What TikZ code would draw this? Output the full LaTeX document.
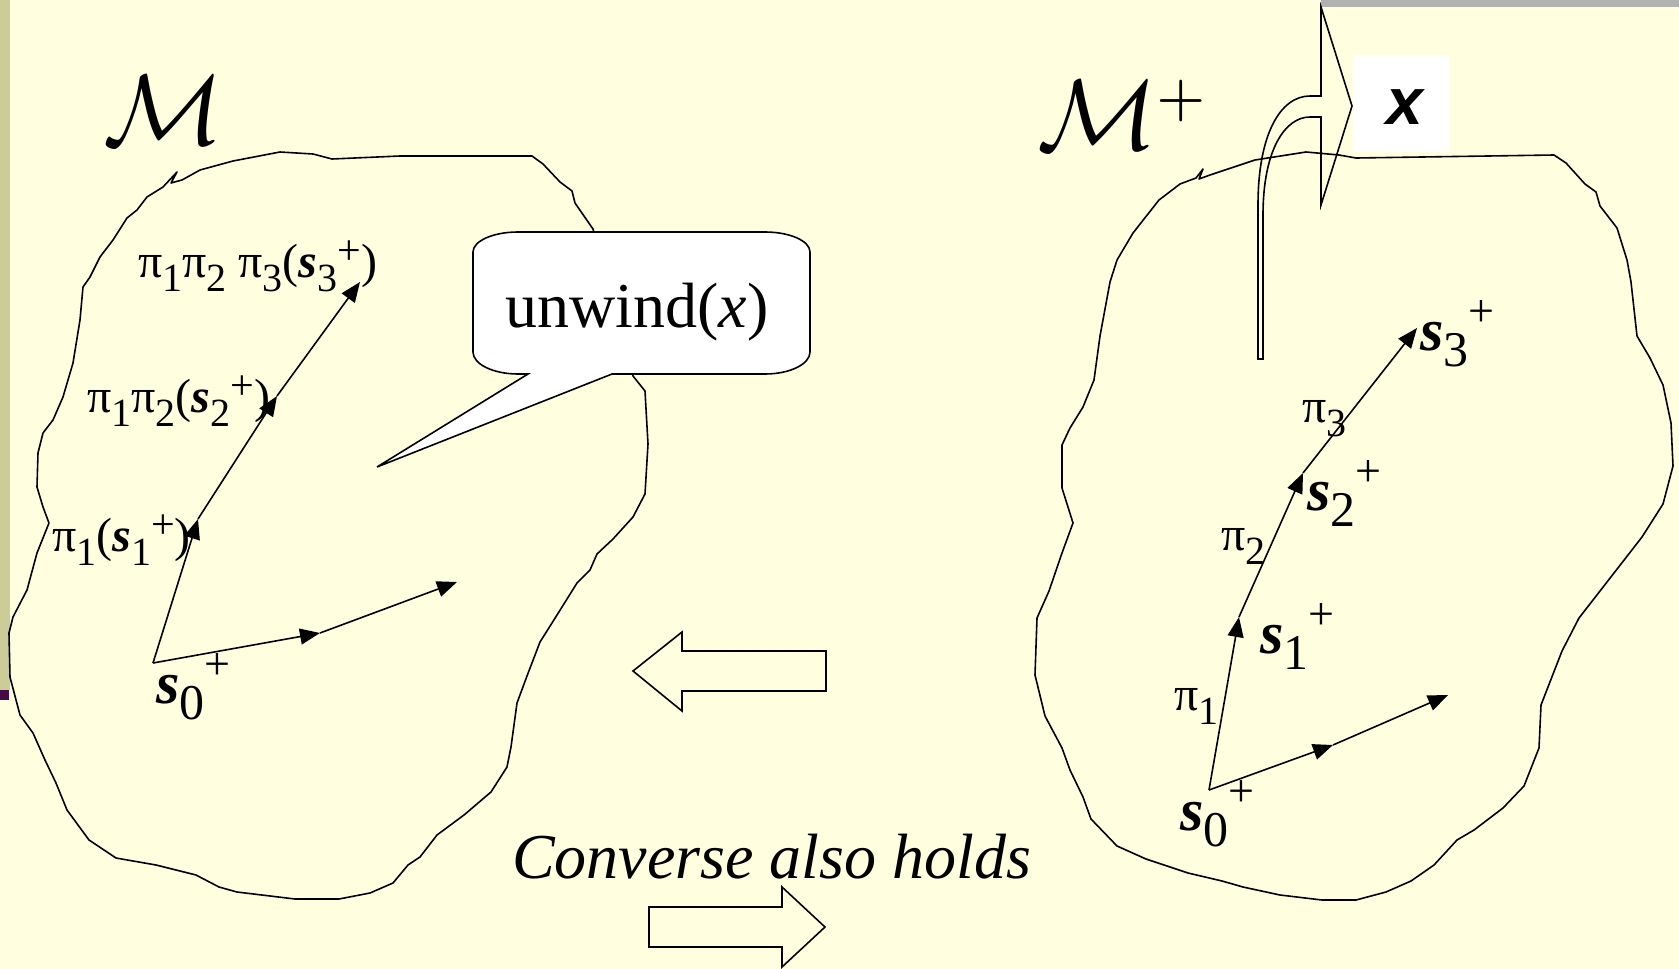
\documentclass[tikz,border=0pt]{standalone}
\usepackage{fontspec}
\setmainfont{Liberation Serif}
\newfontfamily\xsans{Liberation Sans}
\usepackage{graphicx}
\usetikzlibrary{arrows.meta}
\definecolor{bgy}{RGB}{255,255,224}
\definecolor{stripc}{RGB}{204,204,153}
\definecolor{purp}{RGB}{70,10,70}
\definecolor{barg}{RGB}{178,178,178}
\newcommand{\lsub}[1]{\raisebox{-14pt}{\fontsize{40}{40}\selectfont #1}}
\newcommand{\lsup}[1]{\raisebox{13pt}{\fontsize{42}{42}\selectfont #1}}
\newcommand{\ssub}[1]{\raisebox{-16pt}{\fontsize{50}{50}\selectfont #1}}
\newcommand{\hsup}[1]{\raisebox{24pt}{\fontsize{46}{46}\selectfont #1}}
\newcommand{\bs}{\textbf{\textit{s}}}
\tikzset{
  blob/.style={draw=black, line width=1.6pt, line join=round},
  conn/.style={draw=black, line width=1.6pt, -{Triangle[length=20pt,width=16pt]}},
  lab/.style={inner sep=0pt, font=\fontsize{48}{50}\selectfont},
  slab/.style={inner sep=0pt, font=\fontsize{60}{62}\selectfont},
  blockarrow/.style={draw=black, line width=1.6pt, line join=miter},
}
\begin{document}
\begin{tikzpicture}[x=1pt,y=-1pt]
\useasboundingbox (0,0) rectangle (1679,969);
\fill[bgy] (0,0) rectangle (1679,969);
\fill[stripc] (0,0) rectangle (10,690);
\fill[purp] (0,690) rectangle (9,700);
\fill[barg] (1321,0) rectangle (1679,7);

% left blob
\draw[blob] (163,187) -- (177,172) -- (171,183) -- (182,180) -- (200,170) -- (233,161) -- (280,152) -- (313,154) -- (332,159) -- (400,156) -- (532,156) -- (543,164) -- (560,182) -- (572,191) -- (575,203) -- (593,229) -- (615,300) -- (633,376) -- (645,391) -- (648,444) -- (645,494) -- (633,517) -- (613,539) -- (597,554) -- (590,570) -- (577,583) -- (557,615) -- (540,642) -- (527,676) -- (517,703) -- (511,747) -- (507,767) -- (491,792) -- (464,815) -- (437,835) -- (420,857) -- (408,865) -- (393,883) -- (370,893) -- (339,899) -- (295,899) -- (237,892) -- (219,887) -- (196,875) -- (156,865) -- (116,858) -- (89,840) -- (67,810) -- (56,783) -- (45,760) -- (33,733) -- (20,715) -- (10,677) -- (9,633) -- (13,617) -- (27,590) -- (37,553) -- (49,523) -- (43,507) -- (37,487) -- (38,453) -- (43,433) -- (53,420) -- (63,397) -- (73,363) -- (80,320) -- (83,287) -- (90,277) -- (100,257) -- (113,240) -- (127,218) -- (137,210) -- (147,197) -- cycle;

% right blob
\draw[blob] (1180,184) -- (1196,178) -- (1203,169) -- (1199,179) -- (1210,175) -- (1255,160) -- (1306,152) -- (1339,155) -- (1356,158) -- (1554,155) -- (1566,163) -- (1585,184) -- (1596,192) -- (1600,206) -- (1617,228) -- (1627,260) -- (1631,282) -- (1637,336) -- (1650,358) -- (1663,385) -- (1671,423) -- (1673,466) -- (1663,504) -- (1642,537) -- (1621,564) -- (1600,591) -- (1579,618) -- (1562,651) -- (1541,705) -- (1539,748) -- (1524,786) -- (1503,808) -- (1474,830) -- (1457,840) -- (1434,865) -- (1411,881) -- (1386,892) -- (1356,900) -- (1322,900) -- (1280,895) -- (1243,887) -- (1222,881) -- (1188,873) -- (1146,859) -- (1117,846) -- (1091,819) -- (1083,797) -- (1070,770) -- (1062,748) -- (1045,716) -- (1035,675) -- (1037,618) -- (1049,591) -- (1062,553) -- (1073,523) -- (1062,488) -- (1062,445) -- (1070,428) -- (1083,407) -- (1094,380) -- (1100,336) -- (1110,282) -- (1117,260) -- (1133,233) -- (1159,200) -- cycle;

% bent arrow
\draw[blockarrow] (1258,359) -- (1258,205) .. controls (1258,135) and (1280,96) .. (1310,96) -- (1321,96) -- (1321,7) -- (1352,106) -- (1321,205) -- (1321,117) -- (1310,117) .. controls (1285,117) and (1263,150) .. (1263,215) -- (1263,359) -- cycle;

% x box
\node[fill=white, minimum width=97pt, minimum height=97pt, inner sep=0pt] (xbox) at (1401.5,103.5) {};
\node[inner sep=0pt, font=\fontsize{66}{70}\xsans\bfseries\itshape] (xlab) at (1405,107) {x};

% M labels
\node[inner sep=0pt] (Ml) at (164,110) {\scalebox{10}{$\mathcal{M}$}};
\node[inner sep=0pt, anchor=south west] (Mr) at (1037,150) {\scalebox{10}{$\mathcal{M}^{\kern-0.2pt\scriptscriptstyle +}$}};

% speech bubble
\draw[fill=white, line width=1.6pt, line join=miter] (518,232) -- (765,232) arc[start angle=270, end angle=360, x radius=45, y radius=20] -- (810,352) arc[start angle=0, end angle=90, x radius=45, y radius=22] -- (612,374) -- (377,467) -- (528,374) -- (518,374) arc[start angle=90, end angle=180, x radius=45, y radius=22] -- (473,252) arc[start angle=180, end angle=270, x radius=45, y radius=20] -- cycle;
\node[inner sep=0pt, anchor=base, font=\fontsize{64}{70}\selectfont] (unw) at (637,327) {unwind(\textit{x})};

% left connectors
\coordinate (v0) at (153,663);
\coordinate (p1) at (198,519);
\coordinate (p2) at (277,396);
\coordinate (p3) at (360,282);
\coordinate (h1) at (320,633);
\coordinate (h2) at (457,582);
\draw[conn] (v0) -- (p1);
\draw[conn] (p1) -- (p2);
\draw[conn] (p2) -- (p3);
\draw[conn] (v0) -- (h1);
\draw[conn] (h1) -- (h2);

% right connectors
\coordinate (w0) at (1209,790);
\coordinate (q1) at (1239,617);
\coordinate (q2) at (1303,473);
\coordinate (q3) at (1417,328);
\coordinate (k1) at (1333,745);
\coordinate (k2) at (1448,695);
\draw[conn] (w0) -- (q1);
\draw[conn] (q1) -- (q2);
\draw[conn] (q2) -- (q3);
\draw[conn] (w0) -- (k1);
\draw[conn] (k1) -- (k2);

% left labels
\node[lab, anchor=base west] (l3) at (138,277) {π\lsub{1}π\lsub{2} π\lsub{3}(\bs\lsub{3}\lsup{+})};
\node[lab, anchor=base west] (l2) at (87,412) {π\lsub{1}π\lsub{2}(\bs\lsub{2}\lsup{+})};
\node[lab, anchor=base west] (l1) at (52,551) {π\lsub{1}(\bs\lsub{1}\lsup{+})};
\node[slab, anchor=base west] (ls0) at (156,703) {\bs\ssub{0}\hsup{+}};

% right labels
\node[slab, anchor=base west] (r0) at (1180,830) {\bs\ssub{0}\hsup{+}};
\node[lab, anchor=base west] (rp1) at (1174,710) {π\lsub{1}};
\node[slab, anchor=base west] (r1) at (1260,653) {\bs\ssub{1}\hsup{+}};
\node[lab, anchor=base west] (rp2) at (1221,550) {π\lsub{2}};
\node[slab, anchor=base west] (r2) at (1307,510) {\bs\ssub{2}\hsup{+}};
\node[lab, anchor=base west] (rp3) at (1302,422) {π\lsub{3}};
\node[slab, anchor=base west] (r3) at (1420,350) {\bs\ssub{3}\hsup{+}};

% block arrows
\draw[blockarrow] (633,671) -- (682,632) -- (682,651) -- (826,651) -- (826,691) -- (682,691) -- (682,711) -- cycle;
\draw[blockarrow] (649,907) -- (782,907) -- (782,887) -- (825,927) -- (782,967) -- (782,947) -- (649,947) -- cycle;

\node[inner sep=0pt, anchor=base west, font=\fontsize{64}{70}\selectfont\itshape] (conv) at (512,878) {Converse also holds};
\end{tikzpicture}
\end{document}
